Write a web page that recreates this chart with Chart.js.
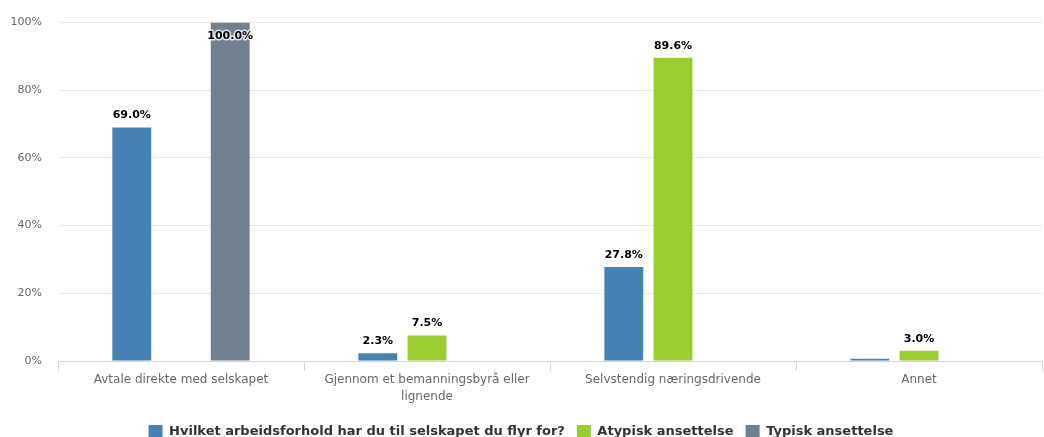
<!DOCTYPE html>
<html>
<head>
<meta charset="utf-8">
<script src="https://cdn.jsdelivr.net/npm/chart.js@4/dist/chart.umd.min.js"></script>
<style>
    html, body { margin: 0; padding: 0; background: #fff; }
    #wrap { width: 1044px; height: 437px; }
</style>
</head>
<body>
<div id="wrap"><canvas id="chart"></canvas></div>
<script>
const categories = [
    "Avtale direkte med selskapet",
    ["Gjennom et bemanningsbyrå eller", "lignende"],
    "Selvstendig næringsdrivende",
    "Annet",
];
const seriesNames = [
    "Hvilket arbeidsforhold har du til selskapet du flyr for?",
    "Atypisk ansettelse",
    "Typisk ansettelse",
];
const allAnswers = [69.0, 2.3, 27.8, 0.7];
const atypical = [null, 7.5, 89.6, 3.0];
const typical = [100.0, null, null, null];
const yTicks = [0, 20, 40, 60, 80, 100];

const colors = ["#4682b4", "#9acd32", "#708090"];
const fontFamily = "'DejaVu Sans', sans-serif";

// value labels above each bar, white halo like the original
const valueLabels = {
    id: "valueLabels",
    afterDatasetsDraw(chart) {
        const ctx = chart.ctx;
        const top = chart.chartArea.top;
        ctx.save();
        ctx.font = "bold 11px " + fontFamily;
        ctx.textAlign = "center";
        ctx.textBaseline = "middle";
        ctx.lineJoin = "round";
        chart.data.datasets.forEach((ds, i) => {
            const meta = chart.getDatasetMeta(i);
            meta.data.forEach((bar, j) => {
                const v = ds.data[j];
                if (v === null || v < 1) return;
                const text = v.toFixed(1) + "%";
                const y = Math.max(bar.y - 12, top + 14);
                ctx.strokeStyle = "rgba(255,255,255,0.8)";
                ctx.lineWidth = 3;
                ctx.strokeText(text, bar.x, y);
                ctx.fillStyle = "#000";
                ctx.fillText(text, bar.x, y);
            });
        });
        ctx.restore();
    },
};

new Chart(document.getElementById("chart"), {
    type: "bar",
    data: {
        labels: categories,
        datasets: [
            { label: seriesNames[0], data: allAnswers, backgroundColor: colors[0] },
            { label: seriesNames[1], data: atypical, backgroundColor: colors[1] },
            { label: seriesNames[2], data: typical, backgroundColor: colors[2] },
        ],
    },
    options: {
        responsive: true,
        maintainAspectRatio: false,
        animation: false,
        layout: { padding: { top: 14, right: 2, left: 0, bottom: -12 } },
        datasets: {
            bar: {
                categoryPercentage: 0.6,
                barPercentage: 0.79,
                skipNull: false,
            },
        },
        plugins: {
            legend: {
                position: "bottom",
                labels: {
                    boxWidth: 14,
                    boxHeight: 14,
                    padding: 12,
                    color: "#333",
                    font: { family: fontFamily, size: 13, weight: "bold" },
                },
            },
            tooltip: { enabled: false },
        },
        scales: {
            x: {
                offset: true,
                grid: {
                    offset: true,
                    drawOnChartArea: false,
                    tickLength: 10,
                    color: "#ccd6eb",
                },
                border: { color: "#ccd6eb" },
                ticks: {
                    color: "#666",
                    padding: 0,
                    maxRotation: 0,
                    autoSkip: false,
                    font: { family: fontFamily, size: 12, lineHeight: 1.45 },
                },
                afterFit(scale) { scale.height = 52; },
            },
            y: {
                min: 0,
                max: 100,
                afterBuildTicks(scale) {
                    scale.ticks = yTicks.map((v) => ({ value: v }));
                },
                grid: { color: "#e6e6e6", drawTicks: false },
                border: { display: false },
                ticks: {
                    color: "#666",
                    padding: 16,
                    font: { family: fontFamily, size: 11 },
                    callback: (v) => v + "%",
                },
                afterFit(scale) { scale.width = 58; },
            },
        },
    },
    plugins: [valueLabels],
});
</script>
</body>
</html>
